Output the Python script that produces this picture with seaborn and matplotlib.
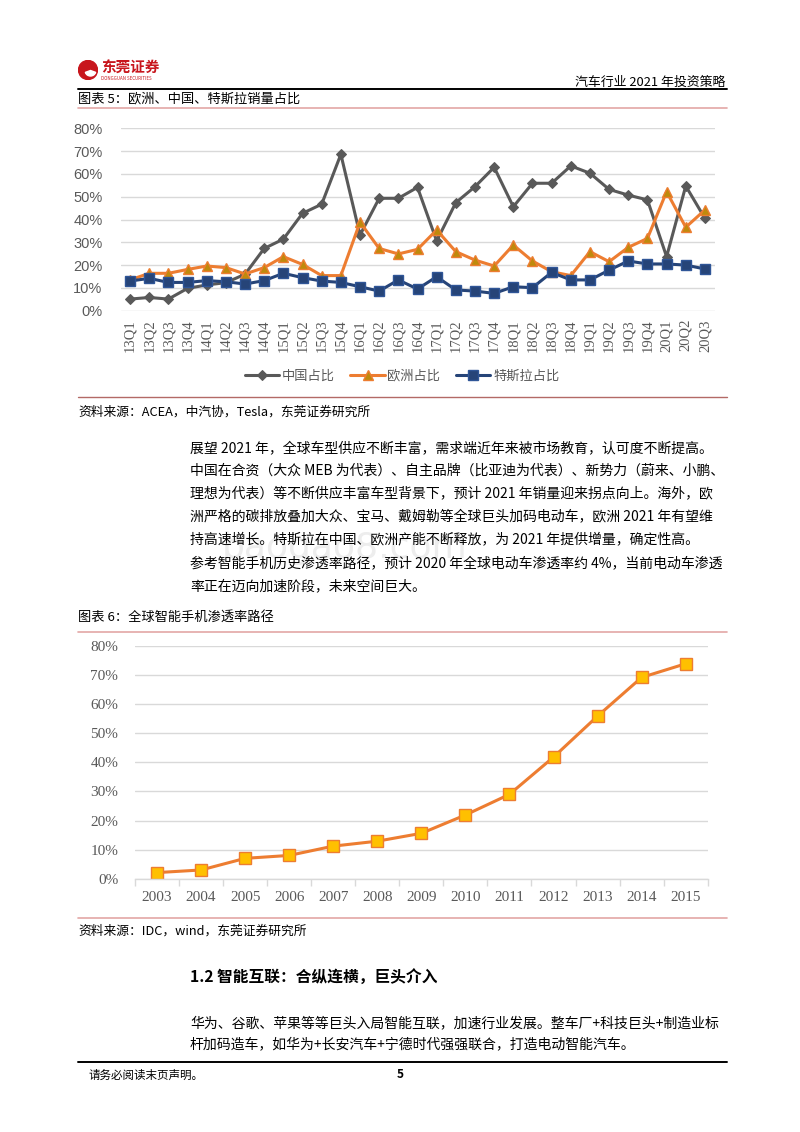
'''Recreate page 5 of the auto industry report (two line charts)'''

### IMPORTS ###

import matplotlib
matplotlib.use('Agg')
import matplotlib.pyplot as plt
from matplotlib.patches import Circle, Wedge
from matplotlib.ticker import PercentFormatter
import pandas as pd
import seaborn as sns

### DATA ###

quarters = ['13Q1', '13Q2', '13Q3', '13Q4', '14Q1', '14Q2', '14Q3', '14Q4',
            '15Q1', '15Q2', '15Q3', '15Q4', '16Q1', '16Q2', '16Q3', '16Q4',
            '17Q1', '17Q2', '17Q3', '17Q4', '18Q1', '18Q2', '18Q3', '18Q4',
            '19Q1', '19Q2', '19Q3', '19Q4', '20Q1', '20Q2', '20Q3']
china_share = [5.1, 5.8, 5.1, 9.8, 11.3, 12.3, 16.0, 27.3,
               31.4, 42.7, 46.7, 68.6, 33.2, 49.3, 49.3, 54.1,
               30.6, 47.4, 54.4, 62.9, 45.6, 55.9, 55.9, 63.5,
               60.3, 53.2, 50.7, 48.6, 23.7, 54.7, 40.5]
europe_share = [13.5, 16.4, 16.4, 18.1, 19.6, 18.9, 16.1, 18.9,
                23.7, 20.3, 15.4, 15.4, 38.8, 27.3, 24.9, 26.9,
                35.4, 25.9, 22.2, 19.6, 28.8, 21.8, 17.1, 15.4,
                25.9, 21.5, 27.8, 31.7, 52.2, 36.6, 44.2]
tesla_share = [13.0, 14.2, 12.4, 12.4, 13.2, 12.7, 11.7, 13.2,
               16.4, 14.5, 13.0, 12.4, 10.5, 8.6, 13.5, 9.5,
               14.9, 9.1, 8.6, 7.6, 10.5, 10.1, 16.8, 13.5,
               13.5, 17.8, 21.8, 20.5, 20.5, 20.0, 18.3]
series_names = ['中国占比', '欧洲占比', '特斯拉占比']

years = ['2003', '2004', '2005', '2006', '2007', '2008', '2009',
         '2010', '2011', '2012', '2013', '2014', '2015']
phone_penetration = [2.1, 3.0, 7.0, 8.0, 11.2, 12.9, 15.6,
                     21.9, 29.0, 41.8, 55.9, 69.2, 73.9]

W, H = 800, 1132
GRAY = '#595959'
GRID = '#D9D9D9'
PINK = '#E3A7A5'

### HELPERS ###

def box(left, top, right, bottom):
    return [left / W, 1 - bottom / H, (right - left) / W, (bottom - top) / H]

def put(fig, x, y, s, **kw):
    kw.setdefault('va', 'center')
    kw.setdefault('fontsize', 10.0)
    kw.setdefault('color', 'black')
    fig.text(x / W, 1 - y / H, s, **kw)

def hline(fig, y, color, lw, x0=78, x1=727):
    fig.add_artist(plt.Line2D([x0 / W, x1 / W], [1 - y / H, 1 - y / H],
                              color=color, lw=lw))

### FIGURE ###

sns.set_style('white')
plt.rcParams['font.family'] = ['Noto Sans CJK SC', 'DejaVu Sans']

fig = plt.figure(figsize=(W / 100, H / 100), dpi=100)

# header with logo
logo = fig.add_axes(box(78, 60, 98, 80))
logo.set_xlim(-1, 1)
logo.set_ylim(-1, 1)
logo.set_aspect('equal')
logo.axis('off')
logo.add_patch(Circle((0, 0), 0.95, color='#C8161D'))
logo.add_patch(Wedge((0.25, -0.05), 0.55, 200, 340, color='white'))
put(fig, 101, 68, '东莞证券', fontsize=10.5, color='#C8161D', fontweight='bold')
put(fig, 101, 78, 'DONGGUAN SECURITIES', fontsize=3.2, color='#C8161D')
put(fig, 725, 82, '汽车行业 2021 年投资策略', fontsize=9.3, ha='right')
hline(fig, 89, 'black', 1.4)

# figure 5
put(fig, 78, 99, '图表 5：欧洲、中国、特斯拉销量占比', fontsize=9.5)
hline(fig, 108, PINK, 1.2)

ax1 = fig.add_axes(box(120.5, 128.3, 714.5, 310.7))
df1 = pd.DataFrame({'quarter': quarters, series_names[0]: china_share,
                    series_names[1]: europe_share, series_names[2]: tesla_share})
sns.lineplot(data=df1, x='quarter', y=series_names[0], ax=ax1, sort=False,
             color=GRAY, lw=2.2, marker='D', ms=5.5, mfc=GRAY, mec=GRAY,
             label=series_names[0])
sns.lineplot(data=df1, x='quarter', y=series_names[1], ax=ax1, sort=False,
             color='#ED7D31', lw=2.2, marker='^', ms=7.5, mfc='#BF8A0C',
             mec='#ED7D31', mew=1, label=series_names[1])
sns.lineplot(data=df1, x='quarter', y=series_names[2], ax=ax1, sort=False,
             color='#264478', lw=2.2, marker='s', ms=7, mfc='#264478',
             mec='#2F5597', mew=1, label=series_names[2])
ax1.set_xlim(-0.5, len(quarters) - 0.5)
ax1.set_ylim(0, 80)
ax1.set_yticks(range(0, 81, 10))
ax1.yaxis.set_major_formatter(PercentFormatter(decimals=0))
ax1.grid(axis='y', color=GRID, lw=1)
ax1.set_axisbelow(True)
for s in ax1.spines.values():
    s.set_visible(False)
ax1.tick_params(axis='y', length=0, pad=13, labelsize=10.5, labelcolor=GRAY)
ax1.tick_params(axis='x', length=0, pad=6, labelsize=10.5, labelcolor=GRAY,
                labelrotation=90)
for t in ax1.get_yticklabels():
    t.set_fontfamily('Liberation Sans')
for t in ax1.get_xticklabels():
    t.set_fontfamily('Liberation Serif')
ax1.set_xlabel('')
ax1.set_ylabel('')
ax1.legend(loc='center', bbox_to_anchor=(402 / W, 1 - 376 / H),
           bbox_transform=fig.transFigure, ncol=3, frameon=False,
           fontsize=9.5, handlelength=2.6, columnspacing=1.2,
           handletextpad=0.2, labelcolor=GRAY)

hline(fig, 397, '#B36A66', 1.0)
put(fig, 78, 412, '资料来源：ACEA，中汽协，Tesla，东莞证券研究所', fontsize=9.2)

# body text
para1 = ['展望 2021 年，全球车型供应不断丰富，需求端近年来被市场教育，认可度不断提高。',
         '中国在合资（大众 MEB 为代表）、自主品牌（比亚迪为代表）、新势力（蔚来、小鹏、',
         '理想为代表）等不断供应丰富车型背景下，预计 2021 年销量迎来拐点向上。海外，欧',
         '洲严格的碳排放叠加大众、宝马、戴姆勒等全球巨头加码电动车，欧洲 2021 年有望维',
         '持高速增长。特斯拉在中国、欧洲产能不断释放，为 2021 年提供增量，确定性高。']
para2 = ['参考智能手机历史渗透率路径，预计 2020 年全球电动车渗透率约 4%，当前电动车渗透',
         '率正在迈向加速阶段，未来空间巨大。']
for i, line in enumerate(para1):
    put(fig, 190, 448 + i * 22.8, line)
for i, line in enumerate(para2):
    put(fig, 190, 563 + i * 22.8, line)

put(fig, 345, 548, 'baogao8.com', fontsize=26, color='#EDEDED',
    ha='center', family='DejaVu Sans', zorder=0)

# figure 6
put(fig, 78, 617, '图表 6：全球智能手机渗透率路径', fontsize=9.5)
hline(fig, 632, PINK, 1.2)

ax2 = fig.add_axes(box(135, 646, 707.7, 878.7))
df2 = pd.DataFrame({'year': years, 'share': phone_penetration})
sns.lineplot(data=df2, x='year', y='share', ax=ax2, sort=False,
             color='#ED7D31', lw=2.2, marker='s', ms=8, mfc='#FFC000',
             mec='#ED7D31', mew=1)
ax2.set_xlim(-0.5, len(years) - 0.5)
ax2.set_ylim(0, 80)
ax2.set_yticks(range(0, 81, 10))
ax2.yaxis.set_major_formatter(PercentFormatter(decimals=0))
ax2.set_xticks([i - 0.5 for i in range(len(years) + 1)], minor=True)
ax2.grid(axis='y', color=GRID, lw=1)
ax2.set_axisbelow(True)
for s in ['top', 'right', 'left']:
    ax2.spines[s].set_visible(False)
ax2.spines['bottom'].set_color(GRID)
ax2.spines['bottom'].set_linewidth(1)
ax2.tick_params(axis='y', length=0, pad=12, labelsize=11, labelcolor=GRAY)
ax2.tick_params(axis='x', which='major', length=0, pad=9, labelsize=11,
                labelcolor=GRAY)
ax2.tick_params(axis='x', which='minor', length=5, width=1, color=GRID,
                direction='out', bottom=True)
for t in ax2.get_yticklabels() + ax2.get_xticklabels():
    t.set_fontfamily('Liberation Serif')
ax2.set_xlabel('')
ax2.set_ylabel('')

hline(fig, 918, PINK, 1.2)
put(fig, 78, 931, '资料来源：IDC，wind，东莞证券研究所', fontsize=9.2)

put(fig, 190, 978, '1.2 智能互联：合纵连横，巨头介入', fontsize=11.3, fontweight='bold')
para3 = ['华为、谷歌、苹果等等巨头入局智能互联，加速行业发展。整车厂+科技巨头+制造业标',
         '杆加码造车，如华为+长安汽车+宁德时代强强联合，打造电动智能汽车。']
for i, line in enumerate(para3):
    put(fig, 190, 1023 + i * 21.5, line)

hline(fig, 1062, 'black', 1.4)
put(fig, 88, 1075, '请务必阅读末页声明。', fontsize=8.3)
put(fig, 400, 1074, '5', fontsize=8.5, fontweight='bold', ha='center')

fig.savefig('out.png', dpi=100)
